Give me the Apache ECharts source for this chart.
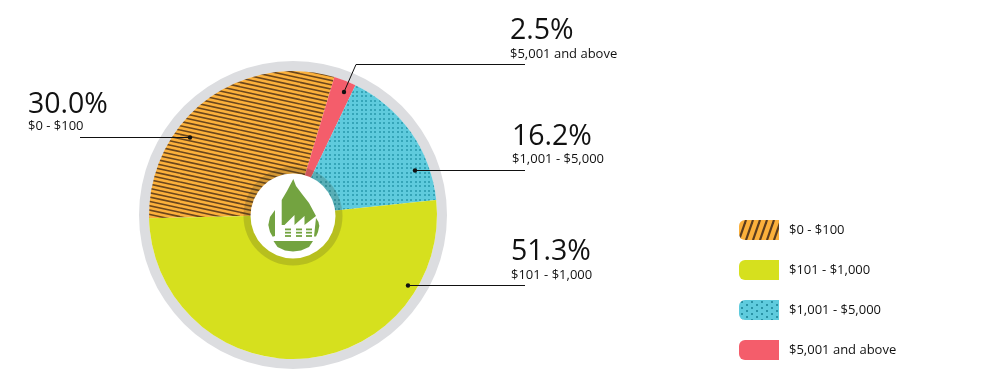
<!DOCTYPE html>
<html>
<head>
<meta charset="utf-8">
<style>
  html, body { margin: 0; padding: 0; background: #fff; }
  #chart { width: 1000px; height: 392px; }
</style>
<script src="https://cdn.jsdelivr.net/npm/echarts@6/dist/echarts.min.js"></script>
</head>
<body>
<div id="chart"></div>
<script>
// clockwise order as drawn on the pie
const categories = ["$0 - $100", "$5,001 and above", "$1,001 - $5,000", "$101 - $1,000"];
const shares = [30.0, 2.5, 16.2, 51.3];
const legendOrder = ["$0 - $100", "$101 - $1,000", "$1,001 - $5,000", "$5,001 and above"];
const percentLabels = ["30.0%", "2.5%", "16.2%", "51.3%"];

const FONT = "'Open Sans', 'Noto Sans', sans-serif";
const INK = "#111";

function patternTile(w, h, bg, ink, lineW, draw) {
  const c = document.createElement("canvas");
  c.width = w;
  c.height = h;
  const ctx = c.getContext("2d");
  ctx.fillStyle = bg;
  ctx.fillRect(0, 0, w, h);
  ctx.strokeStyle = ink;
  ctx.fillStyle = ink;
  ctx.lineWidth = lineW;
  draw(ctx);
  return { image: c, repeat: "repeat" };
}

// shallow hatch on the pie, three stripes in a 13px tall tile
const piePatternOrange = patternTile(60, 13, "#fbb03b", "#6b461c", 1.6, ctx => {
  for (let k = -4; k <= 3; k++) {
    ctx.beginPath();
    ctx.moveTo(0, k * 13 / 3);
    ctx.lineTo(60, k * 13 / 3 + 13);
    ctx.stroke();
  }
});
const piePatternBlue = patternTile(9, 9, "#5fcbdd", "#35a5b8", 1, ctx => {
  ctx.fillRect(1, 1, 2, 2);
  ctx.fillRect(5, 1, 2, 2);
  ctx.fillRect(1, 5, 2, 2);
  ctx.fillRect(5, 5, 2, 2);
});
// the legend swatches use a coarser version
const legendPatternOrange = patternTile(7, 20, "#fbb03b", "#5b3c1e", 2.2, ctx => {
  for (let k = -1; k <= 2; k++) {
    ctx.beginPath();
    ctx.moveTo(k * 7, 20);
    ctx.lineTo(k * 7 + 7, 0);
    ctx.stroke();
  }
});
const legendPatternBlue = patternTile(10, 6, "#5fcbdd", "#2a93a6", 1, ctx => {
  ctx.fillRect(2, 1, 2, 2);
  ctx.fillRect(7, 4, 2, 2);
});

const sliceColors = [piePatternOrange, "#f45d6b", piePatternBlue, "#d6e01e"];
const legendColors = {
  "$0 - $100": legendPatternOrange,
  "$101 - $1,000": "#d6e01e",
  "$1,001 - $5,000": legendPatternBlue,
  "$5,001 and above": "#f45d6b"
};

// callouts: text anchor + leader line, same order as categories
const callouts = [
  { x: 28, y: 105, sub: 126, line: [[80, 137.5], [190, 137.5]] },
  { x: 510, y: 31, sub: 54, line: [[525, 64.5], [356, 64.5], [344, 92]] },
  { x: 512, y: 137, sub: 159, line: [[525, 170.5], [415, 170.5]] },
  { x: 511, y: 252, sub: 275, line: [[525, 285.5], [408, 285.5]] }
];

const calloutGraphics = [];
callouts.forEach((c, i) => {
  calloutGraphics.push({
    type: "text", z: 20,
    style: { x: c.x, y: c.y, text: percentLabels[i], fill: INK, font: "28.5px " + FONT, verticalAlign: "middle" }
  });
  calloutGraphics.push({
    type: "text", z: 20,
    style: { x: c.x, y: c.sub, text: categories[i], fill: INK, font: "13px " + FONT, verticalAlign: "middle" }
  });
  calloutGraphics.push({
    type: "polyline", z: 20,
    shape: { points: c.line },
    style: { stroke: INK, lineWidth: 1, fill: null }
  });
  const end = c.line[c.line.length - 1];
  calloutGraphics.push({
    type: "circle", z: 20,
    shape: { cx: end[0], cy: end[1], r: 2.2 },
    style: { fill: "#111" }
  });
});

const CX = 293, CY = 215;
const ICON_GREEN = "#73a340";

const chart = echarts.init(document.getElementById("chart"), null, { renderer: "canvas" });
chart.setOption({
  animation: false,
  backgroundColor: "#fff",
  legend: {
    orient: "vertical",
    left: 739,
    top: 220,
    padding: 0,
    itemWidth: 40,
    itemHeight: 20,
    itemGap: 20,
    selectedMode: false,
    icon: "path://M6,0H40V20H6A6,6 0 0 1 0,14V6A6,6 0 0 1 6,0Z",
    textStyle: { color: INK, fontFamily: FONT, fontSize: 13, padding: [0, 0, 0, 5] },
    data: legendOrder.map(name => ({ name, itemStyle: { color: legendColors[name] } }))
  },
  series: [
    {
      type: "pie",
      silent: true,
      center: [CX, CY],
      radius: [144, 154],
      label: { show: false },
      labelLine: { show: false },
      z: 1,
      legendHoverLink: false,
      data: [{ name: "ring", value: 1, itemStyle: { color: "#dcdde0" } }]
    },
    {
      type: "pie",
      silent: true,
      center: [CX, CY],
      radius: [0, 144],
      startAngle: 181.3,
      clockwise: true,
      label: { show: false },
      labelLine: { show: false },
      z: 2,
      data: categories.map((name, i) => ({
        name,
        value: shares[i],
        itemStyle: { color: sliceColors[i] }
      }))
    }
  ],
  graphic: calloutGraphics.concat([
    { type: "circle", z: 10, shape: { cx: CX, cy: CY + 1, r: 49.5 }, style: { fill: "rgba(60,60,30,0.2)" } },
    { type: "circle", z: 11, shape: { cx: CX, cy: CY + 1, r: 42.5 }, style: { fill: "#fff" } },
    // droplet split by the factory outline
    { type: "polygon", z: 12, style: { fill: ICON_GREEN }, shape: { points: [
      [293.3, 179], [296, 186], [302, 194], [309, 203], [316, 216], [304.5, 225], [304.5, 216],
      [294.5, 225], [294.5, 215], [284.5, 225], [281.7, 225], [281.7, 200], [287, 191]
    ] } },
    { type: "polygon", z: 12, style: { fill: ICON_GREEN }, shape: { points: [
      [275, 210], [275, 236], [272.7, 236.7], [270, 232], [268.3, 225], [270, 217]
    ] } },
    { type: "polygon", z: 12, style: { fill: ICON_GREEN }, shape: { points: [
      [316, 218], [318.5, 222], [319.3, 226], [318, 232], [316, 236.5], [314, 236.5]
    ] } },
    { type: "polygon", z: 12, style: { fill: ICON_GREEN }, shape: { points: [
      [273.5, 241], [313, 241], [309, 247], [301, 250.5], [293, 251.5], [285, 250.5], [277.5, 247]
    ] } }
  ]).concat(
    // factory windows, 3 x 3
    [285, 296, 306].flatMap(x => [228.5, 231.8, 235.1].map(y => ({
      type: "rect", z: 13,
      shape: { x, y, width: 6, height: 1.8 },
      style: { fill: ICON_GREEN }
    })))
  )
});
</script>
</body>
</html>
